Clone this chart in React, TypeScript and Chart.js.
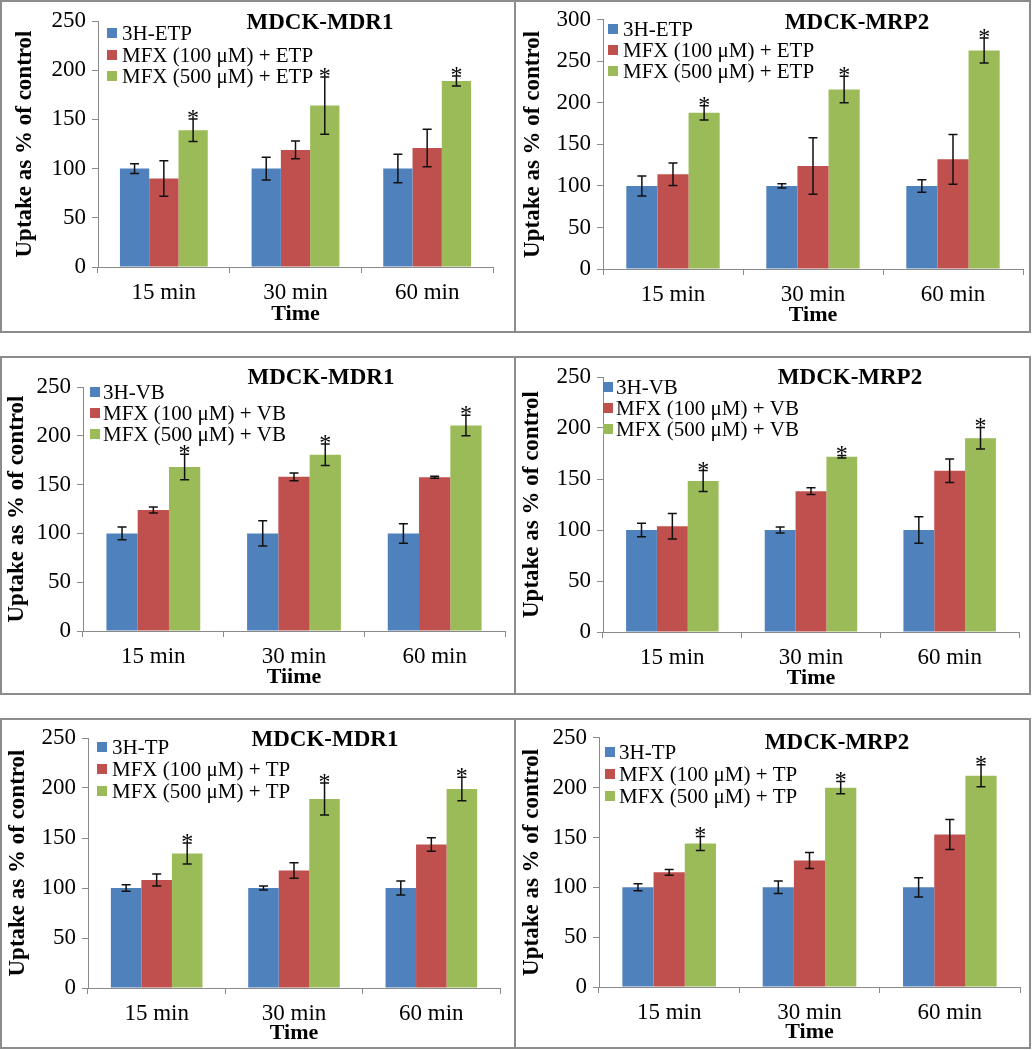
import React, { useEffect, useRef } from "react";
import { Chart, registerables } from "chart.js";

Chart.register(...registerables);

// ---------- data ----------
const categories = ["15 min", "30 min", "60 min"];
const yTicksMax250 = 250;
const yTicksMax300 = 300;
const yStep = 50;

// Etoposide (ETP) – MDCK-MDR1
const etpMdr1Control = [100, 100, 100];
const etpMdr1ControlErr = [5, 11.5, 14.5];
const etpMdr1Mfx100 = [90, 119, 121];
const etpMdr1Mfx100Err = [18, 9, 19];
const etpMdr1Mfx500 = [139, 164, 189];
const etpMdr1Mfx500Err = [11.5, 29, 5];

// Etoposide (ETP) – MDCK-MRP2
const etpMrp2Control = [100, 100, 100];
const etpMrp2ControlErr = [12, 2.5, 7.5];
const etpMrp2Mfx100 = [114, 124, 132];
const etpMrp2Mfx100Err = [13.5, 34, 30];
const etpMrp2Mfx500 = [188, 216, 263];
const etpMrp2Mfx500Err = [8.5, 16, 15];

// Vinblastine (VB) – MDCK-MDR1
const vbMdr1Control = [100, 100, 100];
const vbMdr1ControlErr = [6.5, 13, 10];
const vbMdr1Mfx100 = [124, 158, 157.5];
const vbMdr1Mfx100Err = [3, 4, 1];
const vbMdr1Mfx500 = [168, 180.5, 210.5];
const vbMdr1Mfx500Err = [13, 11, 10.5];

// Vinblastine (VB) – MDCK-MRP2
const vbMrp2Control = [100, 100, 100];
const vbMrp2ControlErr = [6.5, 3, 13];
const vbMrp2Mfx100 = [103.6, 138, 158];
const vbMrp2Mfx100Err = [12.5, 3.3, 11.5];
const vbMrp2Mfx500 = [148, 171.8, 190];
const vbMrp2Mfx500Err = [10.3, 1.3, 10.5];

// Topotecan (TP) – MDCK-MDR1
const tpMdr1Control = [100, 100, 100];
const tpMdr1ControlErr = [3.3, 2, 7];
const tpMdr1Mfx100 = [108, 117.5, 143.5];
const tpMdr1Mfx100Err = [6, 7.7, 6.7];
const tpMdr1Mfx500 = [134.5, 189, 199];
const tpMdr1Mfx500Err = [10.5, 16, 11.7];

// Topotecan (TP) – MDCK-MRP2
const tpMrp2Control = [100, 100, 100];
const tpMrp2ControlErr = [3.5, 6.3, 9.7];
const tpMrp2Mfx100 = [115, 127, 153];
const tpMrp2Mfx100Err = [3, 8, 15];
const tpMrp2Mfx500 = [144, 200, 212];
const tpMrp2Mfx500Err = [7, 6.2, 11];

// significance marks (*) on the 500 µM series
const sigAll = [true, true, true];

const etpLabels = ["3H-ETP", "MFX (100 μM) + ETP", "MFX (500 μM) + ETP"];
const vbLabels = ["3H-VB", "MFX (100 μM) + VB", "MFX (500 μM) + VB"];
const tpLabels = ["3H-TP", "MFX (100 μM) + TP", "MFX (500 μM) + TP"];

// ---------- styles ----------
const COLORS = ["#4F81BD", "#C0504D", "#9BBB59"];
const SERIF = '"Liberation Serif", "Times New Roman", serif';
const AXIS_GRAY = "#8a8a8a";

type Series = { values: number[]; errors: number[]; sig?: boolean[] };
type PanelSpec = {
  x: number; y: number; w: number; h: number;
  yMax: number;
  title: string; xTitle: string;
  labels: string[];
  series: Series[];
  yW: number; xH: number; pr: number; pt: number;
  xTitlePad: number; yTitlePad: number;
  titleX: number; titleY: number;
  legSq: number; legText: number; legRows: number[];
};

const panels: PanelSpec[] = [
  {
    x: 0, y: 0, w: 516, h: 333, yMax: yTicksMax250,
    title: "MDCK-MDR1", xTitle: "Time", labels: etpLabels,
    series: [
      { values: etpMdr1Control, errors: etpMdr1ControlErr },
      { values: etpMdr1Mfx100, errors: etpMdr1Mfx100Err },
      { values: etpMdr1Mfx500, errors: etpMdr1Mfx500Err, sig: sigAll },
    ],
    yW: 98, xH: 66, pr: 23, pt: 21, xTitlePad: 5, yTitlePad: 11,
    titleX: 320, titleY: 23, legSq: 107, legText: 122, legRows: [33, 55, 76],
  },
  {
    x: 514, y: 0, w: 517, h: 333, yMax: yTicksMax300,
    title: "MDCK-MRP2", xTitle: "Time", labels: etpLabels,
    series: [
      { values: etpMrp2Control, errors: etpMrp2ControlErr },
      { values: etpMrp2Mfx100, errors: etpMrp2Mfx100Err },
      { values: etpMrp2Mfx500, errors: etpMrp2Mfx500Err, sig: sigAll },
    ],
    yW: 89, xH: 64, pr: 8, pt: 17, xTitlePad: 4, yTitlePad: 5,
    titleX: 343, titleY: 23, legSq: 94, legText: 109, legRows: [29, 50, 71],
  },
  {
    x: 0, y: 356, w: 516, h: 339, yMax: yTicksMax250,
    title: "MDCK-MDR1", xTitle: "Tiime", labels: vbLabels,
    series: [
      { values: vbMdr1Control, errors: vbMdr1ControlErr },
      { values: vbMdr1Mfx100, errors: vbMdr1Mfx100Err },
      { values: vbMdr1Mfx500, errors: vbMdr1Mfx500Err, sig: sigAll },
    ],
    yW: 83, xH: 64, pr: 11, pt: 31, xTitlePad: 4, yTitlePad: 3,
    titleX: 321, titleY: 22, legSq: 90, legText: 103, legRows: [36, 57, 78],
  },
  {
    x: 514, y: 356, w: 517, h: 339, yMax: yTicksMax250,
    title: "MDCK-MRP2", xTitle: "Time", labels: vbLabels,
    series: [
      { values: vbMrp2Control, errors: vbMrp2ControlErr },
      { values: vbMrp2Mfx100, errors: vbMrp2Mfx100Err },
      { values: vbMrp2Mfx500, errors: vbMrp2Mfx500Err, sig: sigAll },
    ],
    yW: 89, xH: 63, pr: 12, pt: 21, xTitlePad: 3, yTitlePad: 4,
    titleX: 336, titleY: 22, legSq: 89, legText: 102, legRows: [31, 52, 73],
  },
  {
    x: 0, y: 718, w: 516, h: 331, yMax: yTicksMax250,
    title: "MDCK-MDR1", xTitle: "Time", labels: tpLabels,
    series: [
      { values: tpMdr1Control, errors: tpMdr1ControlErr },
      { values: tpMdr1Mfx100, errors: tpMdr1Mfx100Err },
      { values: tpMdr1Mfx500, errors: tpMdr1Mfx500Err, sig: sigAll },
    ],
    yW: 88, xH: 61, pr: 16, pt: 20, xTitlePad: 2, yTitlePad: 4,
    titleX: 325, titleY: 22, legSq: 97, legText: 112, legRows: [29, 51, 73],
  },
  {
    x: 514, y: 718, w: 517, h: 331, yMax: yTicksMax250,
    title: "MDCK-MRP2", xTitle: "Time", labels: tpLabels,
    series: [
      { values: tpMrp2Control, errors: tpMrp2ControlErr },
      { values: tpMrp2Mfx100, errors: tpMrp2Mfx100Err },
      { values: tpMrp2Mfx500, errors: tpMrp2Mfx500Err, sig: sigAll },
    ],
    yW: 85, xH: 62, pr: 11, pt: 19, xTitlePad: 3, yTitlePad: 4,
    titleX: 323, titleY: 25, legSq: 91, legText: 105, legRows: [34, 56, 78],
  },
];

function PanelChart({ p }: { p: PanelSpec }) {
  const ref = useRef<HTMLCanvasElement | null>(null);

  useEffect(() => {
    const canvas = ref.current;
    if (!canvas) return;

    const decor = {
      id: "decor",
      afterDatasetsDraw(chart: any) {
        const ctx = chart.ctx;
        const ys = chart.scales.y;
        ctx.save();
        p.series.forEach((s, i) => {
          const meta = chart.getDatasetMeta(i);
          meta.data.forEach((bar: any, j: number) => {
            const v = s.values[j];
            const e = s.errors[j];
            const x = bar.x;
            const top = ys.getPixelForValue(v + e);
            const bot = ys.getPixelForValue(v - e);
            ctx.strokeStyle = "#111";
            ctx.lineWidth = 1.5;
            ctx.beginPath();
            ctx.moveTo(x, top);
            ctx.lineTo(x, bot);
            ctx.moveTo(x - 4.5, top);
            ctx.lineTo(x + 4.5, top);
            ctx.moveTo(x - 4.5, bot);
            ctx.lineTo(x + 4.5, bot);
            ctx.stroke();
            if (s.sig && s.sig[j]) {
              ctx.fillStyle = "#000";
              ctx.font = `24px ${SERIF}`;
              ctx.textAlign = "center";
              ctx.textBaseline = "alphabetic";
              ctx.fillText("*", x, top + 6);
            }
          });
        });
        ctx.restore();
      },
      afterDraw(chart: any) {
        const ctx = chart.ctx;
        ctx.save();
        ctx.fillStyle = "#000";
        ctx.font = `bold 23px ${SERIF}`;
        ctx.textAlign = "center";
        ctx.textBaseline = "middle";
        ctx.fillText(p.title, p.titleX, p.titleY);
        ctx.font = `21px ${SERIF}`;
        ctx.textAlign = "left";
        p.labels.forEach((lab, i) => {
          const ry = p.legRows[i];
          ctx.fillStyle = COLORS[i];
          ctx.fillRect(p.legSq, ry - 5, 10, 10);
          ctx.fillStyle = "#000";
          ctx.fillText(lab, p.legText, ry + 1);
        });
        ctx.restore();
      },
    };

    const chart = new Chart(canvas, {
      type: "bar",
      data: {
        labels: categories,
        datasets: p.series.map((s, i) => ({
          label: p.labels[i],
          data: s.values,
          backgroundColor: COLORS[i],
          borderWidth: 0,
          categoryPercentage: 0.667,
          barPercentage: 1.0,
        })),
      },
      options: {
        responsive: false,
        animation: false,
        devicePixelRatio: 1,
        layout: { padding: { left: 0, right: p.pr, top: p.pt, bottom: 0 } },
        plugins: {
          legend: { display: false },
          title: { display: false },
          tooltip: { enabled: false },
        },
        scales: {
          x: {
            grid: {
              display: true,
              drawOnChartArea: false,
              drawTicks: true,
              tickLength: 6,
              color: AXIS_GRAY,
              offset: true,
            },
            border: { display: true, color: AXIS_GRAY, width: 1 },
            ticks: {
              color: "#000",
              font: { family: SERIF, size: 23, lineHeight: 1.2 },
              padding: 6,
              maxRotation: 0,
            },
            title: {
              display: true,
              text: p.xTitle,
              color: "#000",
              font: { family: SERIF, size: 22, weight: "bold", lineHeight: 1.2 },
              padding: { top: 0, bottom: p.xTitlePad },
            },
            afterFit: (axis: any) => {
              axis.height = p.xH;
            },
          },
          y: {
            min: 0,
            max: p.yMax,
            grid: {
              display: true,
              drawOnChartArea: false,
              drawTicks: true,
              tickLength: 6,
              color: AXIS_GRAY,
            },
            border: { display: true, color: AXIS_GRAY, width: 1 },
            ticks: {
              stepSize: yStep,
              color: "#000",
              font: { family: SERIF, size: 23, lineHeight: 1.2 },
              padding: 6,
            },
            title: {
              display: true,
              text: "Uptake as % of control",
              color: "#000",
              font: { family: SERIF, size: 23, weight: "bold", lineHeight: 1.2 },
              padding: { top: p.yTitlePad, bottom: 0 },
            },
            afterFit: (axis: any) => {
              axis.width = p.yW;
            },
          },
        },
      } as any,
      plugins: [decor],
    });

    return () => chart.destroy();
  }, [p]);

  return (
    <>
      <canvas
        ref={ref}
        width={p.w}
        height={p.h}
        style={{ position: "absolute", left: p.x, top: p.y, width: p.w, height: p.h }}
      />
      <div
        style={{
          position: "absolute",
          left: p.x,
          top: p.y,
          width: p.w,
          height: p.h,
          border: "2px solid #8c8c8c",
          boxSizing: "border-box",
          pointerEvents: "none",
        }}
      />
    </>
  );
}

export default function App() {
  return (
    <div
      style={{
        position: "absolute",
        left: 0,
        top: 0,
        width: 1033,
        height: 1050,
        background: "#fff",
        overflow: "hidden",
      }}
    >
      {panels.map((p, i) => (
        <PanelChart key={i} p={p} />
      ))}
    </div>
  );
}
